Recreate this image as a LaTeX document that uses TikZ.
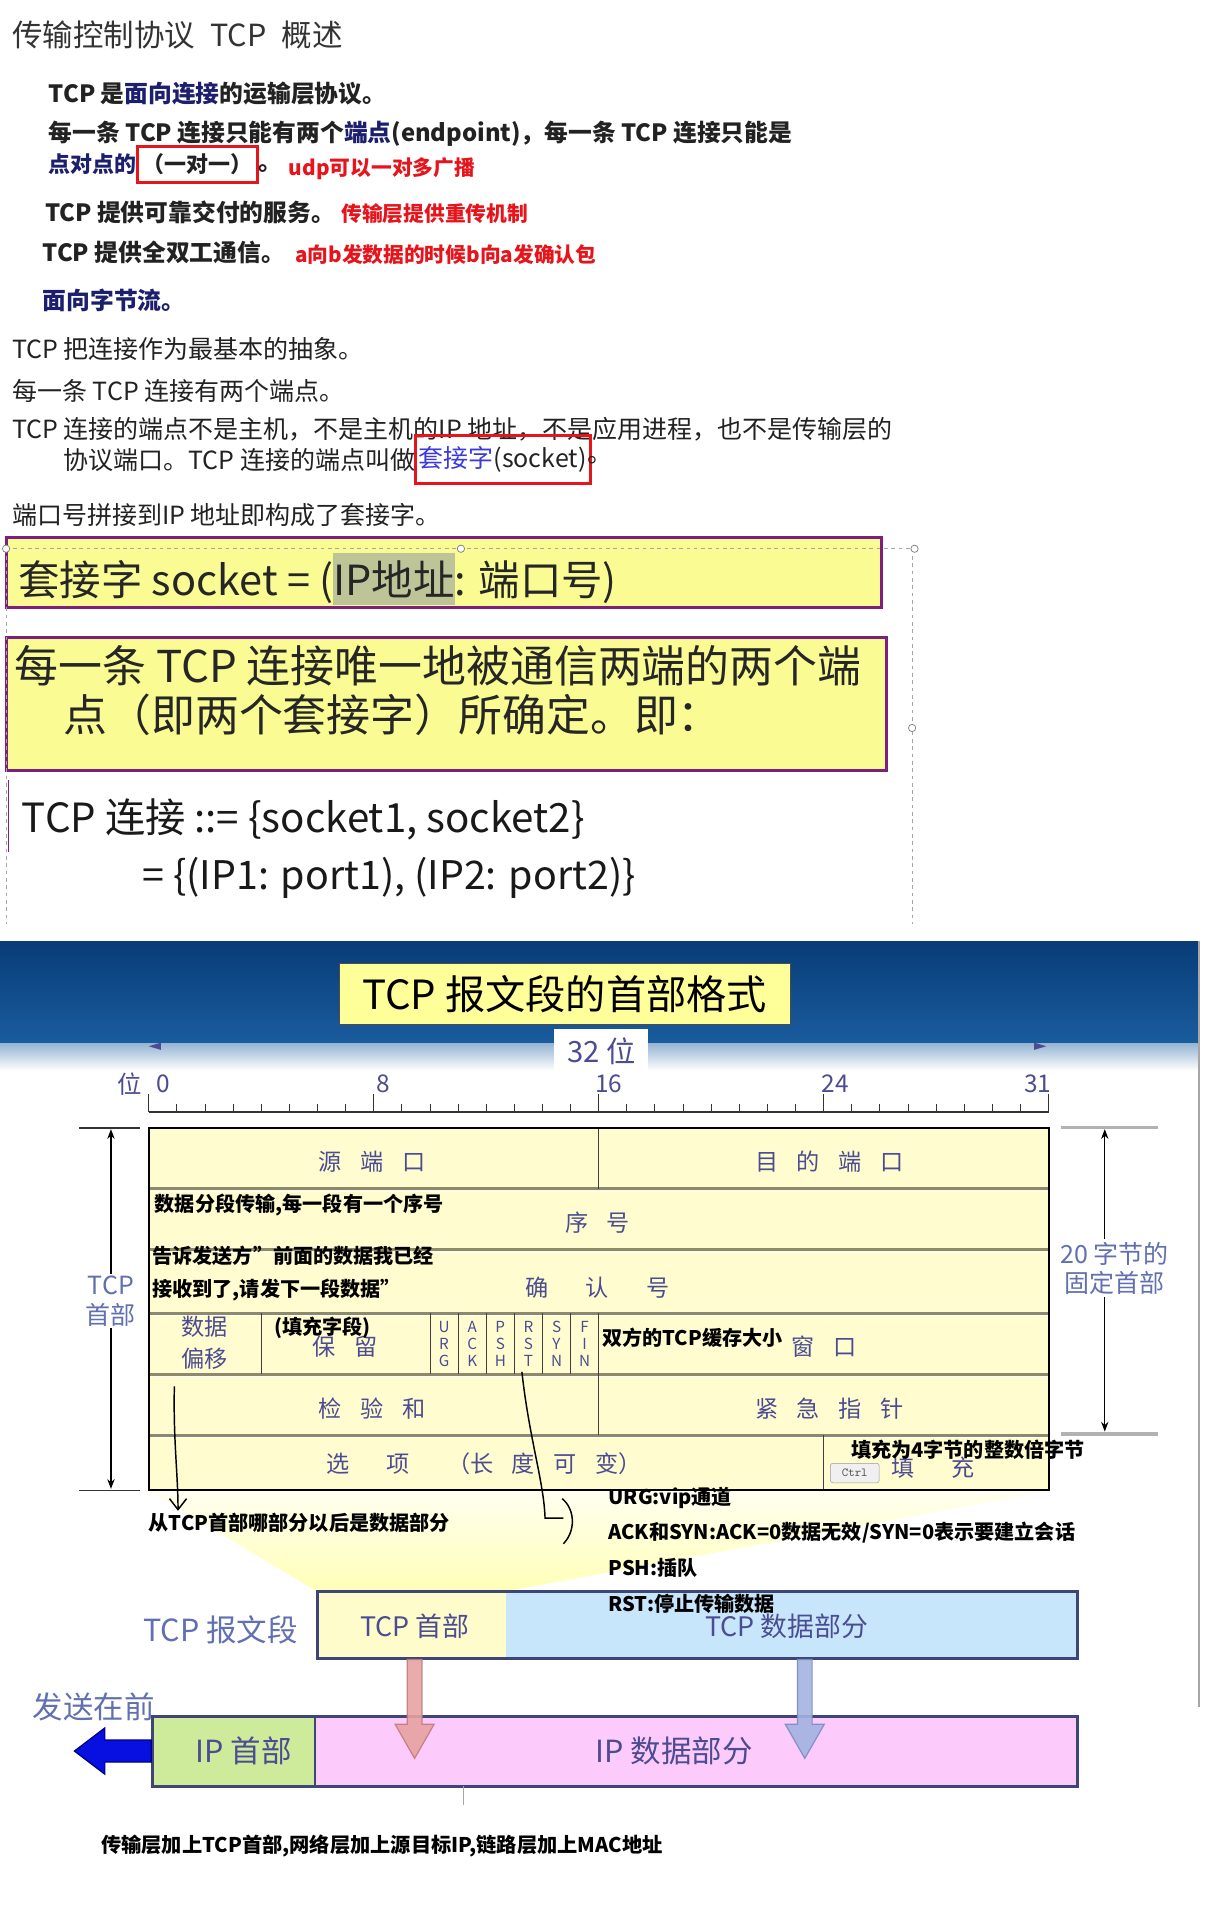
\documentclass[tikz,border=0pt]{standalone}
\usepackage{fontspec}
\setmainfont{Noto Sans CJK SC}
\usetikzlibrary{arrows.meta}
\definecolor{navyt}{HTML}{1B1F6E}
\definecolor{redt}{HTML}{E8141C}
\definecolor{txt}{HTML}{222222}
\definecolor{ybox}{HTML}{FBFB94}
\definecolor{pborder}{HTML}{7E1F7E}
\definecolor{bandhi}{HTML}{083C78}
\definecolor{bandlo}{HTML}{1A5C9E}
\definecolor{lab}{HTML}{4C4C92}
\definecolor{labl}{HTML}{6070B0}
\definecolor{tfill}{HTML}{FFFDCF}
\definecolor{tline}{HTML}{8C8A6A}
\definecolor{segb}{HTML}{3E4577}
\definecolor{segy}{HTML}{FFFCCB}
\definecolor{segbl}{HTML}{C7E6FB}
\definecolor{ipg}{HTML}{CDEB9B}
\definecolor{ipp}{HTML}{FDCBFB}
\definecolor{arrr}{HTML}{E7A2A2}
\definecolor{arrrd}{HTML}{C07C7C}
\definecolor{arrb}{HTML}{A3B3E2}
\definecolor{arrbd}{HTML}{7C8CC0}
\definecolor{bigb}{HTML}{0710E0}
\definecolor{tyel}{HTML}{FFFF99}
\definecolor{hl}{HTML}{A9B29A}
\definecolor{sockblue}{HTML}{3A3AE0}
\newcommand\fsz[1]{\fontsize{#1pt}{#1pt}\selectfont}
\newcommand\gp{\hspace{0.8em}}
\begin{document}
\begin{tikzpicture}[x=1pt,y=-1pt,
  every node/.style={inner sep=0pt, outer sep=0pt},
  t/.style={anchor=west, text=txt},
  top/.style={t, font=\fsz{19.5}\bfseries},
  mid/.style={t, font=\fsz{20.5}},
  redann/.style={anchor=west, text=redt, font=\fsz{17}\bfseries},
  ann/.style={anchor=west, text=black, font=\fsz{16.5}\bfseries},
  lbl/.style={text=lab, font=\fsz{19}},
  flag/.style={text=lab, font=\fontsize{12.5pt}{14pt}\selectfont, align=center},
  side/.style={text=labl, font=\fontsize{20.5pt}{24pt}\selectfont, align=center, fill=white, inner sep=2pt},
  seglbl/.style={text=lab, font=\fsz{22}},
  biglbl/.style={text=labl, font=\fsz{25}},
  hand/.style={line width=1.2pt, black},
  redbox/.style={draw=redt, line width=2.5pt},
  ybx/.style={draw=pborder, line width=2.5pt, fill=ybox, anchor=north west},
  handle/.style={draw=gray, fill=white, line width=0.6pt},
  chain/.style={anchor=base west, text=black!85, font=\fsz{34}},
  dim/.style={{Stealth[length=8pt,width=6pt]}-{Stealth[length=8pt,width=6pt]}, line width=0.9pt},
]
\useasboundingbox (0,0) rectangle (994,1568);
\fill[white] (0,0) rectangle (994,1568);

% ---------- section 1 ----------
\node[t, font=\fsz{25}, text=black!80] (title) at (10,29) {传输控制协议\hspace{0.5em}TCP\hspace{0.5em}概述};
\node[top] (l2) at (40,77) {TCP 是{\color{navyt}面向连接}的运输层协议。};
\node[top] (l3) at (40,110) {每一条 TCP 连接只能有两个{\color{navyt}端点}(endpoint)，每一条 TCP 连接只能是};
\node[top, font=\fsz{18}\bfseries] (l4a) at (40,135) {\color{navyt}点对点的};
\node[redbox, minimum width=98pt, minimum height=30pt, font=\fsz{18}\bfseries, text=txt] (l4b) at (162,135) {（一对一）};
\node[top] (l4c) at (212,138) {。};
\node[redann] (l4d) at (237,138) {udp可以一对多广播};
\node[top] (l5) at (37,174) {TCP 提供可靠交付的服务。};
\node[redann] (l5r) at (280,175) {传输层提供重传机制};
\node[top] (l6) at (35,207) {TCP 提供全双工通信。};
\node[redann] (l6r) at (242,209) {a向b发数据的时候b向a发确认包};
\node[top] (l7) at (35,246) {\color{navyt}面向字节流。};

% ---------- section 2 ----------
\node[mid] (m1) at (10,286) {TCP 把连接作为最基本的抽象。};
\node[mid] (m2) at (10,321) {每一条 TCP 连接有两个端点。};
\node[mid] (m3) at (10,352) {TCP 连接的端点不是主机，不是主机的IP 地址，不是应用进程，也不是传输层的};
\node[mid] (m4) at (52,377) {协议端口。TCP 连接的端点叫做};
\node[redbox, anchor=west, inner xsep=3pt, minimum height=39pt, font=\fsz{20.5}, text=txt] (sock) at (m4.east) {{\color{sockblue}套接字}(socket)};
\node[mid, anchor=west] (m4e) at ([xshift=-2pt]sock.east) {。};
\node[mid] (m5) at (10,422) {端口号拼接到IP 地址即构成了套接字。};

% ---------- section 3 ----------
\node[ybx, minimum width=718pt, minimum height=57pt] (box1) at (5,441) {};
\node[chain] (s1a) at (15,488) {套接字 socket = (};
\node[chain, fill=hl, fill opacity=0.75, text opacity=1, inner ysep=6pt] (s1b) at (s1a.base east) {IP地址};
\node[chain] (s1c) at (s1b.base east) {: 端口号)};
\node[ybx, minimum width=722pt, minimum height=109pt] (box2) at (5,523) {};
\node[t, font=\fsz{36}, text=black!85] (s2) at (12,546) {每一条 TCP 连接唯一地被通信两端的两个端};
\node[t, font=\fsz{36}, text=black!85] (s3) at (52,586) {点（即两个套接字）所确定。即：};
\node[t, font=\fsz{33}, text=black!90] (s4) at (18,672) {TCP 连接 ::= \{socket1, socket2\}};
\node[t, font=\fsz{32.3}, text=black!90] (s5) at (117,720) {= \{(IP1: port1), (IP2: port2)\}};
\draw[gray!70, dashed, line width=0.8pt] (5,450) -- (750,450);
\draw[gray!70, dashed, line width=0.8pt] (5,450) -- (5,758);
\draw[gray!70, dashed, line width=0.8pt] (748,450) -- (748,758);
\draw[pborder, line width=1.5pt] (7,640) -- (7,699);
\foreach \p in {(5,450),(378,450),(750,450),(748,597)} \draw[handle] \p circle (3pt);

% ---------- section 4: header figure ----------
\shade[top color=bandhi, bottom color=bandlo] (0,772) rectangle (984,856);
\shade[top color=bandlo!45, bottom color=white] (0,856) rectangle (984,878);
\draw[gray!70, line width=1.5pt] (983,772) -- (983,1400);
\node[fill=tyel, draw=black!70, line width=0.8pt, minimum width=370pt, minimum height=50pt, font=\fsz{33}, text=black] (tt) at (463,815) {TCP 报文段的首部格式};
\node[fill=white, minimum width=77pt, minimum height=37pt, font=\fsz{24}, text=lab] (b32) at (493,862) {32 位};
\fill[lab] (122,858) -- (132,855) -- (132,861) -- cycle;
\fill[lab] (858,858) -- (848,855) -- (848,861) -- cycle;

% ruler
\node[font=\fsz{20}, text=lab] (wei) at (106,889) {位};
\node[font=\fsz{20}, text=lab, anchor=west] (r0) at (128,889) {0};
\node[font=\fsz{20}, text=lab, anchor=west] (r8) at (309,889) {8};
\node[font=\fsz{20}, text=lab, anchor=west] (r16) at (488,889) {16};
\node[font=\fsz{20}, text=lab, anchor=west] (r24) at (674,889) {24};
\node[font=\fsz{20}, text=lab, anchor=west] (r31) at (840,889) {31};
\draw[black!80, line width=1pt] (122,912) -- (860,912);
\foreach \i in {0,8,16,24,32} \draw[black!80, line width=1pt] ({122+\i*23.0625},912) -- ({122+\i*23.0625},897);
\foreach \i in {1,...,7,9,10,...,15,17,18,...,23,25,26,...,31} \draw[black!80, line width=0.8pt] ({122+\i*23.0625},912) -- ({122+\i*23.0625},905);

% table
\fill[tfill] (122,925) rectangle (860,1222);
\foreach \yy in {975,1025,1077,1127,1177} {
  \draw[tline, line width=2.4pt] (122,\yy) -- (860,\yy);
  \draw[white, line width=0.8pt] (122,\yy+2) -- (860,\yy+2);
}
\draw[black!75, line width=0.8pt] (490.5,925) -- (490.5,975);
\draw[black!75, line width=0.8pt] (490.5,1127) -- (490.5,1177);
\draw[black!75, line width=0.8pt] (675.5,1177) -- (675.5,1222);
\foreach \i in {4,10,11,12,13,14,15,16} \draw[black!75, line width=0.8pt] ({122+\i*23.0625},1077) -- ({122+\i*23.0625},1127);
\draw[black, line width=1.6pt] (122,925) rectangle (860,1222);

\node[lbl] (src) at (305,953) {源\gp 端\gp 口};
\node[lbl] (dst) at (680,953) {目\gp 的\gp 端\gp 口};
\node[lbl] (seq) at (490,1003) {序\gp 号};
\node[lbl] (ack) at (490,1056) {确\gp\gp 认\gp\gp 号};
\node[lbl, align=center, font=\fontsize{19pt}{26pt}\selectfont] (off) at (168,1101) {数据\\偏移};
\node[lbl] (res) at (283,1104) {保\gp 留};
\node[flag] (fu) at ({122+10.5*23.0625},1102) {U\\R\\G};
\node[flag] (fa) at ({122+11.5*23.0625},1102) {A\\C\\K};
\node[flag] (fp) at ({122+12.5*23.0625},1102) {P\\S\\H};
\node[flag] (fr) at ({122+13.5*23.0625},1102) {R\\S\\T};
\node[flag] (fs) at ({122+14.5*23.0625},1102) {S\\Y\\N};
\node[flag] (ff) at ({122+15.5*23.0625},1102) {F\\I\\N};
\node[lbl] (win) at (676,1104) {窗\gp 口};
\node[lbl] (chk) at (305,1155) {检\gp 验\gp 和};
\node[lbl] (urg) at (680,1155) {紧\gp 急\gp 指\gp 针};
\node[lbl] (opt) at (397,1200) {选\gp\gp 项\gp\gp （长\gp 度\gp 可\gp 变）};
\node[lbl] (pad) at (765,1204) {填\gp\gp 充};
\node[draw=gray!80, fill=gray!12, rounded corners=2pt, minimum width=40pt, minimum height=16pt, font=\fsz{10}\ttfamily, text=gray!60!black] (ctrl) at (701,1208) {Ctrl};

% side dimensions
\draw[black!80, line width=1pt] (65,925) -- (115,925);
\draw[black!80, line width=1pt] (65,1222) -- (115,1222);
\coordinate (lt) at (91,926);
\coordinate (lb) at (91,1221);
\draw[dim] (lt) -- (lb);
\node[side] (tcphd) at (91,1067) {TCP\\首部};
\draw[gray!60, line width=2.5pt] (870,925) -- (950,925);
\draw[gray!60, line width=2.5pt] (870,1176) -- (950,1176);
\coordinate (rt) at (906,926);
\coordinate (rb) at (906,1174);
\draw[dim] (rt) -- (rb);
\node[side] (fix) at (914,1040) {20 字节的\\固定首部};

% funnel
\shade[top color=yellow!6, bottom color=yellow!28] (122,1223) -- (860,1223) -- (415,1305) -- (260,1305) -- cycle;

% annotations in table
\node[ann] (a1) at (127,988) {数据分段传输,每一段有一个序号};
\node[ann] (a2) at (125,1030) {告诉发送方"前面的数据我已经};
\node[ann] (a3) at (125,1058) {接收到了,请发下一段数据"};
\node[ann] (a4) at (225,1089) {(填充字段)};
\node[ann] (a5) at (494,1097) {双方的TCP缓存大小};
\node[ann] (a6) at (698,1189) {填充为4字节的整数倍字节};

% hand-drawn marks
\coordinate (hA1) at (143,1137);
\coordinate (hA2) at (146,1239);
\draw[hand, -{Straight Barb[length=9pt,width=14pt]}] (hA1) .. controls (142,1180) and (146,1210) .. (hA2);
\coordinate (hB1) at (428,1125);
\coordinate (hB2) at (447,1245);
\coordinate (hB3) at (462,1245);
\draw[hand] (hB1) .. controls (434,1180) and (446,1215) .. (hB2) -- (hB3);
\draw[hand] (461,1229) .. controls (472,1238) and (472,1256) .. (462,1266);
\node[ann] (b1) at (122,1249) {从TCP首部哪部分以后是数据部分};
\node[ann] (u1) at (499,1228) {URG:vip通道};
\node[ann] (u2) at (499,1257) {ACK和SYN:ACK=0数据无效/SYN=0表示要建立会话};
\node[ann] (u3) at (499,1286) {PSH:插队};

% TCP segment
\node[fill=segy, minimum width=155pt, minimum height=55pt] (tcph) at (337.5,1332.5) {};
\node[fill=segbl, minimum width=469pt, minimum height=55pt] (tcpd) at (649.5,1332.5) {};
\draw[segb, line width=2.5pt] (tcph.north west) rectangle (tcpd.south east);
\node[seglbl] (tcphl) at (340,1334) {TCP 首部};
\node[seglbl] (tcpdl) at (645,1334) {TCP 数据部分};
\node[biglbl] (seglab) at (181,1337) {TCP 报文段};
\node[ann] (u4) at (499,1315) {RST:停止传输数据};

% IP datagram
\node[fill=ipg, minimum width=133pt, minimum height=57pt] (iph) at (191.5,1436.5) {};
\node[fill=ipp, minimum width=626pt, minimum height=57pt] (ipd) at (571,1436.5) {};
\draw[segb, line width=2.5pt] (iph.north west) rectangle (ipd.south east);
\draw[segb, line width=1.5pt] (iph.north east) -- (iph.south east);
\node[biglbl, text=lab] (iphl) at (200,1436) {IP 首部};
\node[biglbl, text=lab] (ipdl) at (553,1436) {IP 数据部分};
\node[biglbl] (send) at (77,1400) {发送在前};
\draw[gray!70, line width=1pt] (380,1465) -- (380,1480);

% block arrows
\draw[fill=arrr, draw=arrrd, line width=1pt, opacity=0.9] (334,1361) -- (334,1414) -- (324,1414) -- (340,1442) -- (356,1414) -- (346,1414) -- (346,1361) -- cycle;
\draw[fill=arrb, draw=arrbd, line width=1pt, opacity=0.9] (654,1361) -- (654,1414) -- (644,1414) -- (660,1442) -- (676,1414) -- (666,1414) -- (666,1361) -- cycle;
\draw[fill=bigb, draw=blue!50!black, line width=1pt] (124,1427) -- (86,1427) -- (86,1417) -- (61,1436) -- (86,1455) -- (86,1445) -- (124,1445) -- cycle;

% bottom note
\node[ann, font=\fsz{16.6}\bfseries] (bot) at (83,1514) {传输层加上TCP首部,网络层加上源目标IP,链路层加上MAC地址};
\end{tikzpicture}
\end{document}
